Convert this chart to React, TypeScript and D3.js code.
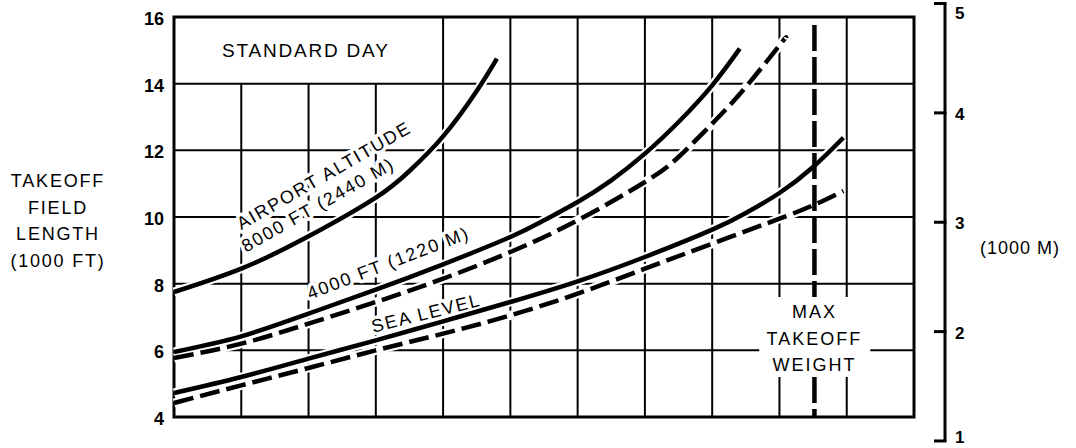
import React from "react";
import * as d3 from "d3";

const W = 1076;
const H = 448;

// Left axis: takeoff field length (1000 ft)
const leftTicks = [4, 6, 8, 10, 12, 14, 16];
// Right axis: takeoff field length (1000 m)
const rightTicks = [1, 2, 3, 4, 5];
const FT_PER_M = 3.28084;

// Weight axis has no labels; 11 grid columns
const columns = [1, 2, 3, 4, 5, 6, 7, 8, 9, 10];
const rows = [6, 8, 10, 12, 14];

// Curves (x = grid column position, y = field length in 1000 ft)
const alt8000X = [0, 1, 2, 3, 3.5, 4, 4.5, 4.8];
const alt8000Y = [7.75, 8.45, 9.42, 10.58, 11.38, 12.42, 13.78, 14.75];

const alt4000X = [0, 1, 2, 3, 4, 5, 5.5, 6, 6.5, 7, 7.5, 8, 8.41];
const alt4000Y = [5.95, 6.42, 7.1, 7.82, 8.58, 9.4, 9.9, 10.45, 11.1, 11.9, 12.85, 13.95, 15.05];

const alt4000DashX = [0, 1, 2, 3, 4, 5, 6, 7, 7.5, 8, 8.5, 9, 9.1];
const alt4000DashY = [5.77, 6.2, 6.8, 7.45, 8.15, 8.95, 9.9, 11.05, 11.8, 12.8, 13.9, 15.15, 15.38];

const seaX = [0, 1, 2, 3, 4, 5, 6, 7, 8, 8.5, 9, 9.5, 9.95];
const seaY = [4.72, 5.2, 5.75, 6.3, 6.87, 7.45, 8.07, 8.8, 9.62, 10.12, 10.72, 11.5, 12.38];

const seaDashX = [0, 1, 2, 3, 4, 5, 6, 7, 8, 9, 9.5, 9.95];
const seaDashY = [4.42, 4.95, 5.47, 6.0, 6.5, 7.05, 7.7, 8.45, 9.2, 9.95, 10.35, 10.78];

const maxWeightX = 9.52;

const FONT = "'Liberation Sans', Arial, Helvetica, sans-serif";

export default function App() {
  const x = d3.scaleLinear().domain([0, 11]).range([174, 914]);
  const y = d3.scaleLinear().domain([4, 16]).range([417, 17]);
  const yM = (km: number) => y(km * FT_PER_M);

  const line = d3
    .line<[number, number]>()
    .x((d) => x(d[0]))
    .y((d) => y(d[1]))
    .curve(d3.curveNatural);

  const zip = (xs: number[], ys: number[]) =>
    xs.map((v, i) => [v, ys[i]] as [number, number]);

  const curves = [
    { d: line(zip(alt8000X, alt8000Y)), dash: undefined },
    { d: line(zip(alt4000X, alt4000Y)), dash: undefined },
    { d: line(zip(alt4000DashX, alt4000DashY)), dash: "20,7" },
    { d: line(zip(seaX, seaY)), dash: undefined },
    { d: line(zip(seaDashX, seaDashY)), dash: "20,7" },
  ];

  // label cut-outs in the grid
  const topBoxCols = [1, 2, 3];
  const labelGapCols = [9, 10];
  const labelGapY: [number, number] = [5.2, 7.6];
  const labelGapX: [number, number] = [8.7, 10.35];

  const gridStroke = { stroke: "#000", strokeWidth: 2 };

  const textHalo = {
    stroke: "#fff",
    strokeWidth: 7,
    paintOrder: "stroke" as const,
    strokeLinejoin: "round" as const,
  };

  const curveLabel = (
    label: string,
    px: number,
    py: number,
    angle: number
  ) => (
    <text
      key={label}
      transform={`translate(${x(px)},${y(py)}) rotate(${-angle})`}
      fontSize={18}
      letterSpacing={1.8}
      fill="#000"
      {...textHalo}
    >
      {label}
    </text>
  );

  return (
    <svg
      width={W}
      height={H}
      style={{ position: "absolute", left: 0, top: 0, background: "#fff" }}
      fontFamily={FONT}
    >
      <rect x={0} y={0} width={W} height={H} fill="#fff" />

      {/* horizontal grid lines */}
      {rows.map((r) =>
        r === 6 ? (
          <g key={r}>
            <line x1={x(0)} x2={x(labelGapX[0])} y1={y(r)} y2={y(r)} {...gridStroke} />
            <line x1={x(labelGapX[1])} x2={x(11)} y1={y(r)} y2={y(r)} {...gridStroke} />
          </g>
        ) : (
          <line key={r} x1={x(0)} x2={x(11)} y1={y(r)} y2={y(r)} {...gridStroke} />
        )
      )}

      {/* vertical grid lines */}
      {columns.map((c) => {
        if (topBoxCols.includes(c)) {
          return <line key={c} x1={x(c)} x2={x(c)} y1={y(4)} y2={y(14)} {...gridStroke} />;
        }
        if (labelGapCols.includes(c)) {
          return (
            <g key={c}>
              <line x1={x(c)} x2={x(c)} y1={y(16)} y2={y(labelGapY[1])} {...gridStroke} />
              <line x1={x(c)} x2={x(c)} y1={y(labelGapY[0])} y2={y(4)} {...gridStroke} />
            </g>
          );
        }
        return <line key={c} x1={x(c)} x2={x(c)} y1={y(4)} y2={y(16)} {...gridStroke} />;
      })}

      {/* frame */}
      <rect
        x={x(0)}
        y={y(16)}
        width={x(11) - x(0)}
        height={y(4) - y(16)}
        fill="none"
        stroke="#000"
        strokeWidth={3}
      />

      {/* curve halos */}
      {curves.map((c, i) => (
        <path key={"h" + i} d={c.d || ""} fill="none" stroke="#fff" strokeWidth={9} />
      ))}

      {/* curve labels */}
      {curveLabel("AIRPORT ALTITUDE", 1.0, 9.6, 30)}
      {curveLabel("8000 FT (2440 M)", 1.07, 8.93, 29.5)}
      {curveLabel("4000 FT (1220 M)", 2.02, 7.52, 21)}
      {curveLabel("SEA LEVEL", 2.96, 6.53, 14)}

      {/* curves */}
      {curves.map((c, i) => (
        <path
          key={"c" + i}
          d={c.d || ""}
          fill="none"
          stroke="#000"
          strokeWidth={4.5}
          strokeDasharray={c.dash}
        />
      ))}

      {/* max takeoff weight line */}
      <line
        x1={x(maxWeightX)}
        x2={x(maxWeightX)}
        y1={y(15.76)}
        y2={y(labelGapY[1])}
        stroke="#000"
        strokeWidth={4.5}
        strokeDasharray="26,6"
      />
      <line
        x1={x(maxWeightX)}
        x2={x(maxWeightX)}
        y1={y(labelGapY[0])}
        y2={y(4)}
        stroke="#000"
        strokeWidth={4.5}
        strokeDasharray="26,6"
      />

      {/* STANDARD DAY */}
      <text x={222} y={57} fontSize={19} letterSpacing={1.8} fill="#000">
        STANDARD DAY
      </text>

      {/* MAX TAKEOFF WEIGHT */}
      {["MAX", "TAKEOFF", "WEIGHT"].map((t, i) => (
        <text
          key={t}
          x={x(maxWeightX)}
          y={318 + i * 26.5}
          fontSize={18}
          letterSpacing={2}
          textAnchor="middle"
          fill="#000"
        >
          {t}
        </text>
      ))}

      {/* left axis ticks */}
      {leftTicks.map((t) => (
        <text
          key={t}
          x={164}
          y={y(t) + 8}
          fontSize={18}
          fontWeight="bold"
          textAnchor="end"
          fill="#000"
        >
          {t}
        </text>
      ))}

      {/* left axis title */}
      {["TAKEOFF", "FIELD", "LENGTH", "(1000 FT)"].map((t, i) => (
        <text
          key={t}
          x={58}
          y={187 + i * 26.5}
          fontSize={18}
          letterSpacing={1.8}
          textAnchor="middle"
          fill="#000"
        >
          {t}
        </text>
      ))}

      {/* right axis bracket */}
      <line x1={945} x2={945} y1={yM(5)} y2={yM(1)} stroke="#000" strokeWidth={3} />
      {rightTicks.map((t) => (
        <g key={t}>
          <line x1={934} x2={946.5} y1={yM(t)} y2={yM(t)} stroke="#000" strokeWidth={3} />
          <text
            x={955}
            y={Math.min(Math.max(yM(t) + 7, 19), 443)}
            fontSize={17}
            fontWeight="bold"
            fill="#000"
          >
            {t}
          </text>
        </g>
      ))}
      <text x={980} y={254} fontSize={18} letterSpacing={1} fill="#000">
        (1000 M)
      </text>
    </svg>
  );
}
